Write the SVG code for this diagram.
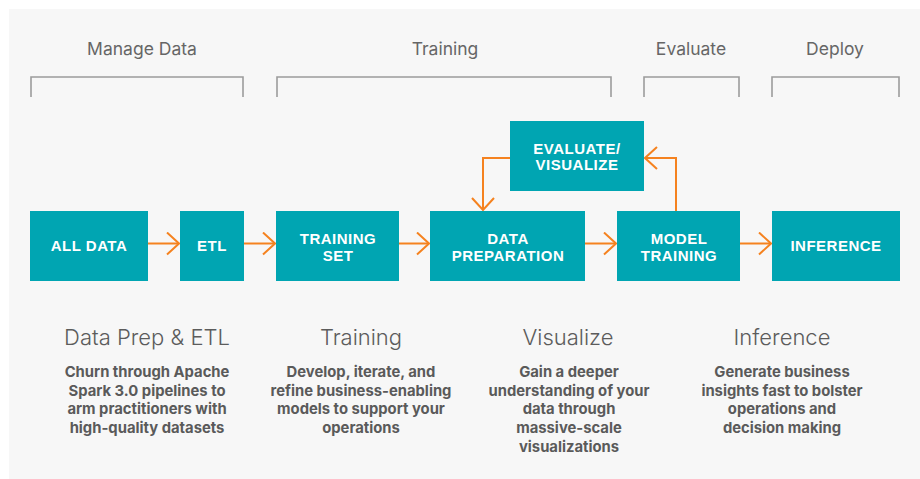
<svg xmlns="http://www.w3.org/2000/svg" width="920" height="479" viewBox="0 0 920 479">
<defs>
<style>
.hdr{font-family:Inter,"Liberation Sans",sans-serif;font-size:17.5px;fill:#666;text-anchor:middle}
.ttl{font-family:Inter,"Liberation Sans",sans-serif;font-size:22px;font-weight:300;fill:#5c5c5c;text-anchor:middle}
.body{font-family:Inter,"Liberation Sans",sans-serif;font-size:14.8px;font-weight:700;fill:#5a5a5a;text-anchor:middle}
.node rect{fill:#00A5B2}
.node text{font-family:"Liberation Sans",Arial,sans-serif;font-size:15px;font-weight:700;fill:#fff;text-anchor:middle;letter-spacing:0.5px}
.brk{fill:none;stroke:#9c9c9c;stroke-width:1.6}
.con{fill:none;stroke:#F5821F;stroke-width:2}
</style>
<marker id="ah" viewBox="0 0 14 24" refX="13" refY="12" markerWidth="14" markerHeight="24" markerUnits="userSpaceOnUse" orient="auto">
<path d="M1,1 L13,12 L1,23" fill="none" stroke="#F5821F" stroke-width="2"/>
</marker>
</defs>
<rect x="9" y="9" width="911" height="470" fill="#f7f7f7"/>
<g id="headers">
<text class="hdr" x="142" y="55">Manage Data</text>
<text class="hdr" x="445" y="55">Training</text>
<text class="hdr" x="691" y="55">Evaluate</text>
<text class="hdr" x="835" y="55">Deploy</text>
<path class="brk" d="M31,97 V77 H243 V97"/>
<path class="brk" d="M277,97 V77 H611 V97"/>
<path class="brk" d="M644,97 V77 H739 V97"/>
<path class="brk" d="M772,97 V77 H899 V97"/>
</g>
<g id="connectors">
<path class="con" d="M148,243.5 H179" marker-end="url(#ah)"/>
<path class="con" d="M244,243.5 H275" marker-end="url(#ah)"/>
<path class="con" d="M399,243.5 H429" marker-end="url(#ah)"/>
<path class="con" d="M585,243.5 H616" marker-end="url(#ah)"/>
<path class="con" d="M740,243.5 H771" marker-end="url(#ah)"/>
<path class="con" d="M676,211 V158 H645" marker-end="url(#ah)"/>
<path class="con" d="M510,158 H483 V210" marker-end="url(#ah)"/>
</g>
<g id="all-data" class="node"><rect x="30" y="211" width="118" height="70"/><text x="89" y="250.5">ALL DATA</text></g>
<g id="etl" class="node"><rect x="180" y="211" width="64" height="70"/><text x="212" y="250.5">ETL</text></g>
<g id="training-set" class="node"><rect x="276" y="211" width="123" height="70"/><text x="338" y="243.8">TRAINING<tspan x="338" dy="16.9">SET</tspan></text></g>
<g id="data-preparation" class="node"><rect x="430" y="211" width="155" height="70"/><text x="508" y="243.8">DATA<tspan x="508" dy="16.9">PREPARATION</tspan></text></g>
<g id="model-training" class="node"><rect x="617" y="211" width="123" height="70"/><text x="679" y="243.8">MODEL<tspan x="679" dy="16.9">TRAINING</tspan></text></g>
<g id="inference" class="node"><rect x="772" y="211" width="128" height="70"/><text x="836" y="250.5">INFERENCE</text></g>
<g id="evaluate-visualize" class="node"><rect x="510" y="121" width="134" height="70"/><text x="577" y="153.5">EVALUATE/<tspan x="577" dy="16.9">VISUALIZE</tspan></text></g>
<g id="descriptions">
<text class="ttl" x="147" y="345">Data Prep &amp; ETL</text>
<text class="ttl" x="361" y="345">Training</text>
<text class="ttl" x="568" y="345">Visualize</text>
<text class="ttl" x="782" y="345">Inference</text>
<text class="body" x="147" y="377">Churn through Apache</text>
<text class="body" x="147" y="396">Spark 3.0 pipelines to</text>
<text class="body" x="147" y="414">arm practitioners with</text>
<text class="body" x="147" y="433">high-quality datasets</text>
<text class="body" x="361" y="377">Develop, iterate, and</text>
<text class="body" x="361" y="396">refine business-enabling</text>
<text class="body" x="361" y="414">models to support your</text>
<text class="body" x="361" y="433">operations</text>
<text class="body" x="569" y="377">Gain a deeper</text>
<text class="body" x="569" y="396">understanding of your</text>
<text class="body" x="569" y="414">data through</text>
<text class="body" x="569" y="433">massive-scale</text>
<text class="body" x="569" y="452">visualizations</text>
<text class="body" x="782" y="377">Generate business</text>
<text class="body" x="782" y="396">insights fast to bolster</text>
<text class="body" x="782" y="414">operations and</text>
<text class="body" x="782" y="433">decision making</text>
</g>
</svg>
